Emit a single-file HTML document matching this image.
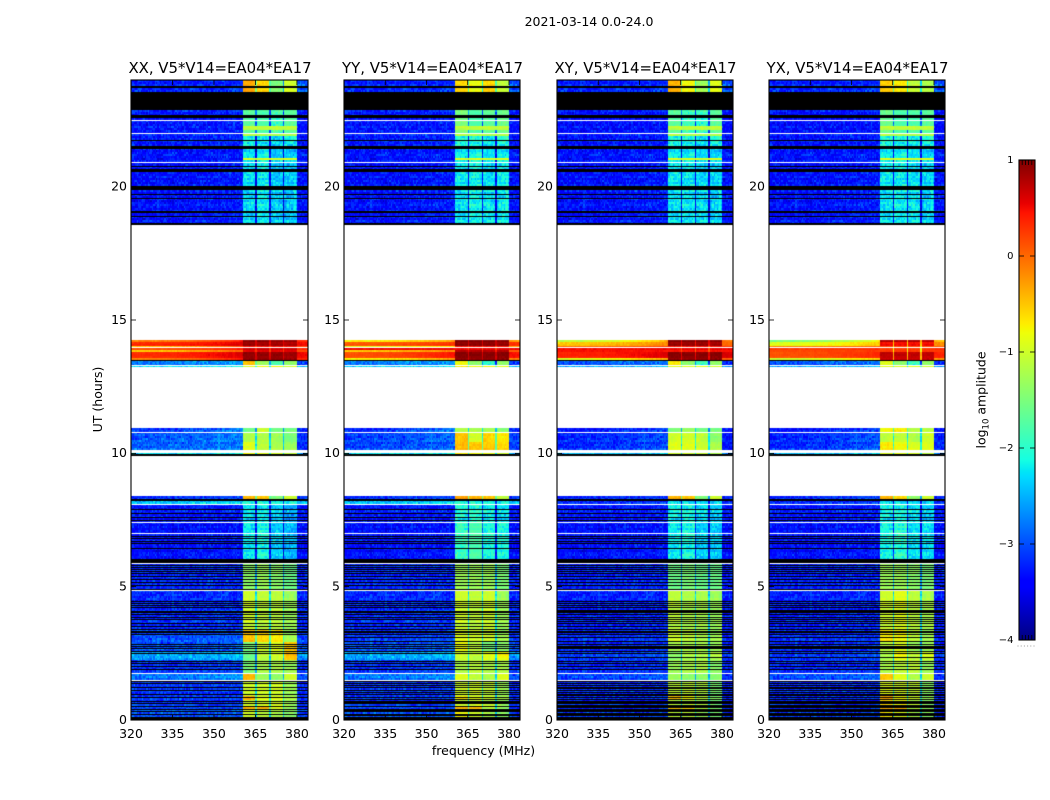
<!DOCTYPE html>
<html lang="en">
<head>
<meta charset="utf-8">
<title>2021-03-14 0.0-24.0 dynamic spectra</title>
<style>
html,body{margin:0;padding:0;background:#fff;}
#figure{position:relative;width:1050px;height:800px;overflow:hidden;background:#fff;font-family:"DejaVu Sans","Liberation Sans",sans-serif;}
canvas{position:absolute;top:80px;}
svg{position:absolute;left:0;top:0;}
text{fill:#000;font-family:"DejaVu Sans","Liberation Sans",sans-serif;}
</style>
</head>
<body>
<div id="figure">
<canvas id="heat-xx" width="177" height="640" style="left:131px"></canvas>
<canvas id="heat-yy" width="176" height="640" style="left:344px"></canvas>
<canvas id="heat-xy" width="176" height="640" style="left:557px"></canvas>
<canvas id="heat-yx" width="176" height="640" style="left:769px"></canvas>
<svg id="overlay" width="1050" height="800" viewBox="0 0 1050 800">
<defs><linearGradient id="jet-gradient" x1="0" y1="1" x2="0" y2="0"></linearGradient></defs>
<text x="589" y="26" text-anchor="middle" font-size="12.5">2021-03-14 0.0-24.0</text>
<text x="483.5" y="755" text-anchor="middle" font-size="12.5">frequency (MHz)</text>
<text transform="translate(102,399.5) rotate(-90)" text-anchor="middle" font-size="12.5">UT (hours)</text>
<text transform="translate(985.5,400) rotate(-90)" text-anchor="middle" font-size="12.5">log<tspan font-size="8.5" dy="3">10</tspan><tspan dy="-3"> amplitude</tspan></text>
</svg>
</div>
<script>
// ---- time spans (UT hours) shared by every level row: [top, bottom]
const segmentSpans = [
[24.00,23.55],[22.87,22.00],[22.00,21.42],[21.42,18.57],
[14.28,14.18],[14.18,13.99],[13.99,13.95],[13.95,13.86],[13.86,13.80],[13.80,13.61],[13.61,13.49],
[13.49,13.30],[13.30,13.20],
[10.96,10.78],[10.78,10.40],[10.40,10.10],[10.10,9.91],
[8.39,8.25],[8.25,8.08],[8.08,7.39],[7.39,5.87],[5.87,4.84],[4.84,3.40],[3.40,2.90],
[2.90,2.55],[2.55,2.25],[2.25,1.73],[1.73,1.48],[1.48,0.90],[0.90,0.75],[0.75,0.55],[0.55,0.40],[0.40,0.00]
];
// ---- log10 amplitude per span: [low-left, low-right, sub1, sub2, sub3, sub4, high]
const levelsXX = [
[-3.3,-3.2,-0.35,-0.6,-1.5,-1.0,-3.0],[-3.3,-3.25,-1.7,-1.8,-1.9,-1.7,-3.3],[-3.3,-3.2,-2.15,-2.25,-2.3,-2.25,-3.3],[-3.35,-3.25,-2.3,-2.2,-2.4,-2.4,-3.3],
[-0.2,0.4,0.9,0.9,0.85,0.85,0.3],[0.35,0.6,0.9,0.85,0.85,0.8,0.5],[-0.5,0.2,0.5,0.5,0.5,0.5,0.2],[0.1,0.4,0.65,0.65,0.6,0.6,0.3],[-0.5,0.1,0.6,0.6,0.6,0.6,0.2],[0.3,0.6,0.9,0.9,0.9,0.85,0.5],[-0.1,0.5,0.95,0.95,0.95,0.9,0.4],
[-2.8,-2.6,-0.5,-1.3,-1.8,-1.4,-3.1],[-2.3,-2.2,-0.9,-0.8,-0.8,-1.0,-2.5],
[-3.1,-2.7,-1.6,-1.0,-1.5,-1.5,-3.2],[-3.0,-2.8,-1.2,-1.2,-1.3,-1.5,-3.2],[-2.9,-2.8,-0.9,-1.1,-1.2,-1.3,-3.2],[-2.3,-2.2,-0.8,-0.9,-1.0,-1.1,-2.6],
[-3.2,-3.0,-0.4,-0.5,-1.5,-1.0,-3.1],[-2.4,-2.3,-2.1,-2.1,-2.1,-2.1,-2.4],[-3.3,-3.25,-2.3,-2.2,-2.4,-2.6,-3.3],[-3.35,-3.3,-2.2,-2.1,-2.4,-2.5,-3.35],[-3.2,-3.2,-1.4,-1.3,-1.4,-1.6,-3.25],[-3.2,-3.15,-1.0,-1.1,-1.1,-1.3,-3.2],[-3.05,-2.95,-0.5,-0.6,-0.7,-1.3,-3.1],
[-3.0,-2.9,-1.5,-1.0,-0.9,-0.5,-3.0],[-2.6,-2.5,-1.6,-1.1,-1.0,-0.5,-2.7],[-3.15,-3.05,-1.5,-1.2,-1.2,-1.3,-3.2],[-2.8,-2.6,-0.4,-1.3,-1.4,-1.0,-3.0],[-3.15,-3.15,-1.0,-1.0,-1.0,-1.3,-3.2],[-3.1,-3.05,-0.4,-0.9,-0.9,-1.2,-3.2],[-3.15,-3.15,-1.0,-1.0,-1.0,-1.3,-3.2],[-3.05,-3.05,-0.4,-0.4,-0.9,-1.3,-3.2],[-3.0,-3.0,-1.0,-1.1,-1.2,-1.4,-3.1]
];
const levelsYY = [
[-3.3,-3.2,-0.6,-0.85,-0.6,-1.1,-3.05],[-3.3,-3.25,-1.5,-1.8,-1.7,-1.6,-3.3],[-3.3,-3.2,-2.1,-2.1,-2.2,-2.1,-3.3],[-3.35,-3.25,-2.25,-2.15,-2.25,-2.2,-3.3],
[-0.8,-0.3,0.95,0.95,0.95,0.9,-0.3],[0.1,0.3,0.95,0.95,0.95,0.9,0.3],[-0.9,-0.6,0.5,0.5,0.5,0.5,-0.3],[0.5,0.5,0.5,0.5,0.5,0.5,0.5],[-0.5,-0.1,0.8,0.8,0.8,0.8,0.1],[0.1,0.45,0.95,0.95,0.95,0.95,0.45],[-0.7,-0.2,0.95,0.95,0.95,0.95,-0.1],
[-2.8,-2.6,-0.8,-1.4,-2.0,-1.4,-3.1],[-2.4,-2.3,-0.7,-0.8,-0.8,-0.9,-2.5],
[-3.2,-2.7,-1.2,-1.2,-1.2,-1.4,-3.2],[-3.1,-2.9,-0.5,-1.0,-0.6,-0.7,-3.1],[-3.05,-2.9,-0.45,-0.5,-0.5,-0.6,-3.1],[-2.3,-2.2,-0.7,-0.8,-0.9,-1.0,-2.6],
[-3.2,-3.0,-0.3,-0.4,-0.5,-1.1,-3.1],[-2.4,-2.3,-2.1,-2.1,-2.1,-2.1,-2.4],[-3.3,-3.25,-2.1,-2.0,-2.2,-2.3,-3.3],[-3.35,-3.3,-1.9,-1.8,-2.1,-2.1,-3.35],[-3.2,-3.2,-1.3,-1.3,-1.3,-1.5,-3.25],[-3.2,-3.15,-1.0,-1.1,-1.0,-1.3,-3.2],[-3.15,-3.05,-0.9,-1.0,-1.0,-1.3,-3.15],
[-3.0,-2.9,-0.8,-1.1,-1.5,-1.4,-3.0],[-2.6,-2.5,-1.0,-1.1,-0.9,-0.8,-2.7],[-3.15,-3.05,-1.2,-1.1,-1.2,-1.2,-3.2],[-2.8,-2.7,-0.9,-1.1,-1.2,-0.9,-3.0],[-3.15,-3.15,-1.0,-1.0,-1.1,-1.3,-3.2],[-3.1,-3.05,-0.7,-0.9,-1.0,-1.2,-3.2],[-3.15,-3.15,-1.0,-1.0,-1.1,-1.3,-3.2],[-3.05,-3.05,-0.4,-0.45,-1.1,-1.3,-3.2],[-3.0,-3.0,-0.8,-1.0,-1.2,-1.4,-3.1]
];
const levelsXY = [
[-3.3,-3.2,-0.4,-0.8,-1.3,-0.9,-3.05],[-3.35,-3.3,-1.7,-1.9,-2.0,-1.7,-3.35],[-3.35,-3.25,-2.15,-2.15,-2.25,-2.15,-3.3],[-3.35,-3.25,-2.25,-2.25,-2.3,-2.35,-3.3],
[-1.2,-0.4,0.95,0.95,0.95,0.9,-0.1],[-0.5,-0.15,0.9,0.9,0.9,0.85,0.0],[0.0,0.3,0.5,0.5,0.5,0.5,0.3],[0.45,0.5,0.5,0.5,0.5,0.5,0.5],[0.5,0.5,0.5,0.5,0.5,0.5,0.5],[0.35,0.6,0.95,0.95,0.95,0.95,0.6],[-0.9,-0.3,0.95,0.95,0.95,0.95,0.1],
[-3.0,-2.8,-0.7,-1.4,-1.9,-1.4,-3.2],[-2.6,-2.5,-0.9,-0.9,-0.9,-1.0,-2.7],
[-3.3,-3.0,-1.5,-1.3,-1.5,-1.5,-3.3],[-3.25,-3.05,-1.0,-1.0,-1.1,-1.4,-3.35],[-3.2,-3.0,-0.9,-0.9,-1.0,-1.2,-3.35],[-2.5,-2.4,-1.0,-1.0,-1.1,-1.2,-2.8],
[-3.25,-3.1,-0.4,-0.5,-1.5,-1.0,-3.2],[-3.15,-3.1,-2.3,-2.3,-2.3,-2.3,-3.15],[-3.3,-3.25,-2.2,-2.1,-2.3,-2.4,-3.3],[-3.35,-3.3,-2.2,-2.1,-2.4,-2.4,-3.35],[-3.25,-3.2,-1.6,-1.5,-1.6,-1.6,-3.3],[-3.25,-3.2,-1.1,-1.2,-1.2,-1.3,-3.25],[-3.2,-3.15,-1.0,-1.1,-1.2,-1.3,-3.25],
[-3.2,-3.1,-1.2,-1.2,-1.2,-1.3,-3.25],[-3.1,-3.05,-1.4,-1.2,-1.2,-1.2,-3.2],[-3.2,-3.15,-1.3,-1.2,-1.2,-1.4,-3.25],[-3.05,-2.95,-1.3,-1.4,-1.4,-1.4,-3.2],[-3.2,-3.2,-1.1,-1.1,-1.2,-1.5,-3.25],[-3.2,-3.1,-0.5,-0.8,-1.1,-1.4,-3.25],[-3.2,-3.2,-1.1,-1.1,-1.2,-1.5,-3.25],[-3.2,-3.1,-0.5,-0.6,-1.1,-1.4,-3.25],[-3.1,-3.1,-1.1,-1.1,-1.3,-1.5,-3.2]
];
const levelsYX = [
[-3.3,-3.2,-0.55,-0.7,-1.1,-1.2,-3.05],[-3.35,-3.3,-1.6,-1.8,-1.8,-1.7,-3.35],[-3.35,-3.25,-2.1,-2.15,-2.15,-2.15,-3.3],[-3.35,-3.25,-2.25,-2.2,-2.25,-2.35,-3.3],
[-1.6,-0.8,0.75,0.75,0.75,0.7,-0.5],[-0.9,-0.5,0.5,0.5,0.5,0.5,-0.2],[-0.1,0.1,0.2,0.2,0.2,0.2,0.1],[0.2,0.3,0.2,0.2,0.2,0.2,0.3],[0.2,0.3,0.3,0.3,0.3,0.3,0.3],[0.1,0.35,0.7,0.7,0.7,0.7,0.35],[-1.0,-0.5,0.7,0.7,0.7,0.7,-0.2],
[-3.0,-2.8,-0.9,-1.4,-1.9,-1.4,-3.2],[-2.6,-2.5,-0.9,-0.9,-0.9,-1.0,-2.7],
[-3.3,-3.0,-0.8,-0.7,-1.1,-1.1,-3.3],[-3.25,-3.0,-1.1,-1.1,-1.2,-1.0,-3.3],[-3.2,-2.95,-0.7,-0.8,-0.9,-0.9,-3.2],[-2.5,-2.4,-0.9,-0.9,-1.0,-1.1,-2.8],
[-3.25,-3.0,-0.4,-0.6,-1.4,-1.0,-3.2],[-3.15,-3.1,-2.3,-2.3,-2.3,-2.3,-3.15],[-3.3,-3.25,-2.2,-2.1,-2.3,-2.4,-3.3],[-3.35,-3.3,-2.1,-2.0,-2.3,-2.3,-3.35],[-3.25,-3.2,-1.3,-1.3,-1.4,-1.5,-3.3],[-3.25,-3.2,-1.0,-0.9,-1.1,-1.2,-3.25],[-3.2,-3.15,-0.7,-0.8,-1.1,-1.3,-3.25],
[-3.2,-3.1,-1.1,-0.9,-1.3,-1.3,-3.25],[-3.15,-3.05,-1.2,-0.8,-1.1,-1.0,-3.2],[-3.2,-3.15,-1.2,-1.1,-1.1,-1.3,-3.25],[-3.0,-2.9,-0.5,-0.9,-1.2,-1.0,-3.2],[-3.2,-3.2,-0.9,-1.0,-1.1,-1.4,-3.25],[-3.2,-3.1,-0.35,-0.8,-1.0,-1.3,-3.25],[-3.2,-3.2,-0.6,-0.8,-1.1,-1.4,-3.25],[-3.2,-3.1,-0.35,-0.4,-1.1,-1.3,-3.25],[-3.1,-3.1,-0.7,-0.9,-1.2,-1.4,-3.2]
];
// ---- thin bright rows in sub-bands: [UT, log10 amplitude]
const brightRows = [[22.20,-1.1],[21.93,-1.2],[21.05,-0.9]];
// ---- flagged/no-data intervals (UT hours)
const whiteGaps = [
[22.50,22.46],[22.02,21.97],[20.92,20.87],[18.57,14.28],[13.99,13.96],[13.33,13.27],[13.24,10.96],[10.80,10.75],[10.14,10.01],[9.91,8.39],
[8.11,8.07],[7.41,7.37],[7.00,6.96],[5.88,5.85],[4.86,4.82],[1.76,1.71],[1.51,1.46]
];
const blackBands = [
[23.77,23.70],[23.55,22.87],[22.68,22.58],[21.74,21.70],[21.52,21.42],[20.78,20.74],[20.65,20.55],[20.02,19.89],[19.74,19.70],[19.58,19.54],[19.08,19.01],[18.90,18.87],[18.62,18.57],
[13.49,13.45],[9.96,9.91],[8.27,8.23],[6.02,5.88],[0.06,0.00]
];
const blackLinesUT = [7.91,7.74,7.59,7.49,6.89,6.79,6.71,6.63,6.42,5.81,5.73,5.66,5.58,5.48,5.38,5.26,5.16,5.06,4.91,4.45,4.38,4.30,4.21,4.05,3.96,3.86,3.76,3.63,3.51,3.40,3.30,3.21,2.83,2.76,2.68,2.58,2.48,2.21,2.11,2.01,1.91,1.43,1.36,1.23,1.11,0.96,0.86,0.71,0.61,0.51,0.41,0.31,0.21,0.11];
const extraBlackXX = [];
const extraBlackYY = [1.30,1.04,0.78,0.66,0.36,0.16,2.95,3.10];
const extraBlackXY = [1.30,1.17,1.04,0.91,0.78,0.66,0.56,0.46,0.36,0.26,0.16,2.35,2.70,2.95,3.10,3.70,4.12];
const extraBlackYX = [1.30,1.17,1.04,0.91,0.78,0.66,0.56,0.46,0.36,0.26,0.16,2.35,2.70,2.95,3.10,3.70,4.12];
// ---- estimated receiver-noise texture (log10 residuals), hand-listed lookup tables
const speckleA = [0.21,-0.14,0.06,-0.27,0.33,-0.05,0.12,-0.31,0.18,0.02,-0.22,0.27,-0.09,0.15,-0.18,0.39,-0.12,0.04,-0.26,0.09,0.24,-0.33,0.11,-0.03,0.19,-0.16,0.30,-0.24,0.07,-0.11,0.16,-0.29,0.22,0.01,-0.19,0.35,-0.07,0.13,-0.23,0.05,0.28,-0.15,-0.02,0.20,-0.30,0.10,0.17,-0.21,0.25,-0.08,0.03,-0.25,0.31,-0.13,0.08,-0.17,0.23,-0.04,0.14,-0.28,0.26];
const speckleB = [-0.10,0.17,-0.22,0.05,0.26,-0.15,0.09,-0.04,0.20,-0.27,0.13,0.01,-0.18,0.24,-0.08,0.15,-0.20,0.07,0.29,-0.12,-0.02,0.18,-0.25,0.10,0.03,-0.16,0.22,-0.06,0.12,-0.23,0.27,-0.11,0.06,0.16,-0.19,0.00,0.21,-0.14,0.08,-0.26,0.19,0.04,-0.09,0.14,-0.21,0.25,-0.05];
const rowStreak = [0.05,-0.08,0.12,-0.03,0.07,0.16,-0.11,0.02,-0.06,0.10,-0.14,0.04,0.09,-0.02,-0.10,0.14,0.00,-0.05,0.06,-0.12,0.11,0.03,-0.07,0.08,-0.13];
// ---- axis configuration
const xTickValues = [320,335,350,365,380];
const yTickValues = [0,5,10,15,20];
const colorbarTicks = [-4,-3,-2,-1,0,1];
const panelTitles = ["XX, V5*V14=EA04*EA17","YY, V5*V14=EA04*EA17","XY, V5*V14=EA04*EA17","YX, V5*V14=EA04*EA17"];
const panelIds = ["xx","yy","xy","yx"];
const subbandEdges = [360.5,365,365.5,370,370.5,375,375.5,380];
const hotNotchDepth = [0.3,0.3,0.4,1.1];
const panelLevels = [levelsXX,levelsYY,levelsXY,levelsYX];
const panelExtraBlack = [extraBlackXX,extraBlackYY,extraBlackXY,extraBlackYX];

const FMIN=320, FMAX=384, UTMIN=0, UTMAX=24, VMIN=-4, VMAX=1;
const PLOT_TOP=80, PLOT_H=640;
const PANEL_LEFT=[131,344,557,769];
const PANEL_W=[177,176,176,176];
const CHAN_W=0.5, ROW_H=0.075;
const NS="http://www.w3.org/2000/svg";
const overlay=document.getElementById("overlay");

function xScale(freq,p){return PANEL_LEFT[p]+(freq-FMIN)/(FMAX-FMIN)*PANEL_W[p];}
function yScale(ut){return PLOT_TOP+(UTMAX-ut)/(UTMAX-UTMIN)*PLOT_H;}
function cbScale(v){return 160+(VMAX-v)/(VMAX-VMIN)*480;}
function interp(keys,t){
  for(let i=1;i<keys.length;i++){
    if(t<=keys[i][0]){
      const a=keys[i-1],b=keys[i];
      return a[1]+(b[1]-a[1])*(t-a[0])/(b[0]-a[0]);
    }
  }
  return keys[keys.length-1][1];
}
const jetR=[[0,0],[0.35,0],[0.66,1],[0.89,1],[1,0.5]];
const jetG=[[0,0],[0.125,0],[0.375,1],[0.64,1],[0.91,0],[1,0]];
const jetB=[[0,0.5],[0.11,1],[0.34,1],[0.65,0],[1,0]];
function jet(t){
  t=Math.max(0,Math.min(1,t));
  return "rgb("+Math.round(255*interp(jetR,t))+","+Math.round(255*interp(jetG,t))+","+Math.round(255*interp(jetB,t))+")";
}
function colorOf(v){return jet((v-VMIN)/(VMAX-VMIN));}

function bandValue(lv,freq,p){
  if(freq<subbandEdges[0]){
    const t=(freq-FMIN)/(subbandEdges[0]-FMIN);
    return lv[0]+(lv[1]-lv[0])*t*t;
  }
  if(freq>=subbandEdges[7]) return lv[6];
  for(let i=0;i<7;i++){
    if(freq>=subbandEdges[i]&&freq<subbandEdges[i+1]){
      if(i%2===0) return lv[2+i/2];
      const s=lv[2+(i-1)/2];
      return s-(s>0?hotNotchDepth[p]:1.2);
    }
  }
  return lv[6];
}
function drawPanel(p){
  const cv=document.getElementById("heat-"+panelIds[p]);
  const ctx=cv.getContext("2d");
  const left=PANEL_LEFT[p], w=PANEL_W[p];
  const levels=panelLevels[p];
  ctx.fillStyle="#fff";
  ctx.fillRect(0,0,w,PLOT_H);
  const nRows=Math.round((UTMAX-UTMIN)/ROW_H), nChans=Math.round((FMAX-FMIN)/CHAN_W);
  for(let r=0;r<nRows;r++){
    const utTop=UTMAX-r*ROW_H, utMid=utTop-ROW_H/2, utBot=utTop-ROW_H;
    let seg=-1;
    for(let s=0;s<segmentSpans.length;s++){
      if(utMid<=segmentSpans[s][0]&&utMid>segmentSpans[s][1]) seg=s;
    }
    if(seg<0) continue;
    const lv=levels[seg];
    const streak=rowStreak[r%rowStreak.length];
    let bright=null;
    for(const b of brightRows){ if(Math.abs(utMid-b[0])<ROW_H/2+0.001) bright=b[1]; }
    const y0=Math.round(yScale(utTop))-PLOT_TOP, y1=Math.round(yScale(utBot))-PLOT_TOP;
    for(let c=0;c<nChans;c++){
      const f=FMIN+c*CHAN_W;
      let v=bandValue(lv,f+CHAN_W/2,p);
      if(bright!==null&&f>=subbandEdges[0]&&f<subbandEdges[7]) v=bright;
      const noise=speckleA[(c*7+r*3+(c*r)%11)%speckleA.length]+speckleB[(c*3+r*11+(c*r)%7)%speckleB.length];
      const amp=v<-1.8?0.6:(v>-0.1?0.12:0.22);
      v+=noise*amp+streak*(v<-1.8?0.6:0.3);
      const x0=Math.round(xScale(f,p))-left, x1=Math.round(xScale(f+CHAN_W,p))-left;
      ctx.fillStyle=colorOf(v);
      ctx.fillRect(x0,y0,Math.max(1,x1-x0),Math.max(1,y1-y0));
    }
  }
  function maskBand(a,b,color){
    const y0=Math.round(yScale(a))-PLOT_TOP, y1=Math.round(yScale(b))-PLOT_TOP;
    ctx.fillStyle=color;
    ctx.fillRect(0,y0,w,Math.max(1,y1-y0));
  }
  for(const g of whiteGaps) maskBand(g[0],g[1],"#fff");
  for(const g of blackBands) maskBand(g[0],g[1],"#000");
  for(const u of blackLinesUT) maskBand(u+0.02,u-0.02,"#000");
  for(const u of panelExtraBlack[p]) maskBand(u+0.02,u-0.02,"#000");
}
function mk(tag,attrs,parent){
  const el=document.createElementNS(NS,tag);
  for(const k in attrs) el.setAttribute(k,attrs[k]);
  (parent||overlay).appendChild(el);
  return el;
}
function drawAxes(p){
  const left=PANEL_LEFT[p], w=PANEL_W[p], right=left+w, id=panelIds[p];
  const g=mk("g",{});
  
  
  const frame=mk("rect",{x:left,y:PLOT_TOP,width:w,height:PLOT_H,fill:"none",stroke:"#000","stroke-width":1.1},g);
  
  
  for(const t of xTickValues){
    const x=xScale(t,p);
    const tb=mk("line",{x1:x,x2:x,y1:PLOT_TOP+PLOT_H,y2:PLOT_TOP+PLOT_H-5,stroke:"#000","stroke-width":0.8},g);
    
    
    const tt=mk("line",{x1:x,x2:x,y1:PLOT_TOP,y2:PLOT_TOP+5,stroke:"#000","stroke-width":0.8},g);
    
    
    const lab=mk("text",{x:x,y:738,"text-anchor":"middle","font-size":12.5},g);
    lab.textContent=String(t);
    
    
  }
  for(const t of yTickValues){
    const y=yScale(t);
    const tl=mk("line",{x1:left,x2:left+5,y1:y,y2:y,stroke:"#000","stroke-width":0.8},g);
    
    
    const tr=mk("line",{x1:right,x2:right-5,y1:y,y2:y,stroke:"#000","stroke-width":0.8},g);
    
    
    const lab=mk("text",{x:left-4,y:y+3.8,"text-anchor":"end","font-size":12.5},g);
    lab.textContent=String(t);
    
    
  }
  const title=mk("text",{x:left+w/2+0.5,y:73,"text-anchor":"middle","font-size":14.9},g);
  title.textContent=panelTitles[p];
  
  
}
function drawColorbar(){
  const grad=document.getElementById("jet-gradient");
  const stopSet=new Set();
  for(const keys of [jetR,jetG,jetB]) for(const k of keys) stopSet.add(k[0]);
  const stops=Array.from(stopSet).sort(function(a,b){return a-b;});
  for(const s of stops){
    const st=mk("stop",{offset:s,"stop-color":jet(s)},grad);
    
    
  }
  const g=mk("g",{});
  
  
  const bar=mk("rect",{x:1019,y:160,width:16,height:480,fill:"url(#jet-gradient)",stroke:"#000","stroke-width":1.1},g);
  
  
  for(const t of colorbarTicks){
    const y=cbScale(t);
    if(t>VMIN&&t<VMAX){
      const a=mk("line",{x1:1019,x2:1024,y1:y,y2:y,stroke:"#000","stroke-width":0.8},g);
      
      
      const b=mk("line",{x1:1035,x2:1030,y1:y,y2:y,stroke:"#000","stroke-width":0.8},g);
      
      
    }
    const lab=mk("text",{x:1013.5,y:y+2.8,"text-anchor":"end","font-size":10},g);
    lab.textContent=String(t).replace("-","\u2212");
    
    
  }
  for(let i=1;i<5;i++){
    const x=1019+i*3.2;
    const a=mk("line",{x1:x,x2:x,y1:160,y2:165,stroke:"#000","stroke-width":0.8},g);
    
    
    const b=mk("line",{x1:x,x2:x,y1:640,y2:635,stroke:"#000","stroke-width":0.8},g);
    
    
  }
  for(let i=0;i<6;i++){
    const d=mk("rect",{x:1017.5+i*3.2,y:645.5,width:1,height:1,fill:"#999"},g);
    
    
  }
}
for(let p=0;p<4;p++){drawPanel(p);drawAxes(p);}
drawColorbar();
</script>
</body>
</html>
